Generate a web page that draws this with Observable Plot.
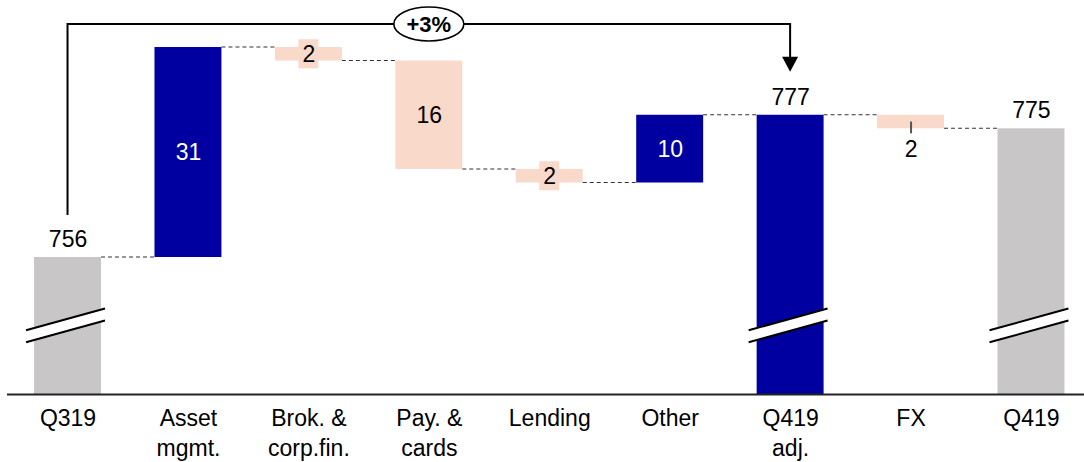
<!DOCTYPE html>
<html><head><meta charset="utf-8">
<script src="https://cdn.jsdelivr.net/npm/d3@7"></script>
<script src="https://cdn.jsdelivr.net/npm/@observablehq/plot@0.6"></script>
<style>body{margin:0;background:#fff}</style>
</head><body><div id="chart"></div>
<script>
// ---- data ----
const categories = ["Q319", "Asset mgmt.", "Brok. & corp.fin.", "Pay. & cards", "Lending", "Other", "Q419 adj.", "FX", "Q419"];
const tickLabels = ["Q319", "Asset\nmgmt.", "Brok. &\ncorp.fin.", "Pay. &\ncards", "Lending", "Other", "Q419\nadj.", "FX", "Q419"];
const values = [756, 31, -2, -16, -2, 10, 777, -2, 775];
const kinds = ["total", "delta", "delta", "delta", "delta", "delta", "subtotal", "delta", "total"];
const leaderCats = ["FX"];

// ---- styling / scale config ----
const NAVY = "#0000A0", PEACH = "#F9D9CA", GRAY = "#C8C6C7";
const yMin = 735.78, yMax = 793.94, breakValue = 745.9;
const FONT = "'Liberation Sans', Arial, Helvetica, sans-serif";
const FS = 23;

let run = 0;
const rows = categories.map((cat, i) => {
  const v = values[i], k = kinds[i];
  let lo, hi;
  if (k === "delta") { const s = run; run += v; lo = Math.min(s, run); hi = Math.max(s, run); }
  else { run = v; lo = yMin; hi = v; }
  const fill = k === "total" ? GRAY : k === "subtotal" ? NAVY : v > 0 ? NAVY : PEACH;
  return {cat, label: tickLabels[i], v, k, lo, hi, mid: (lo + hi) / 2, end: run, fill};
});
const labelOf = Object.fromEntries(rows.map(r => [r.cat, r.label]));
const totals = rows.filter(r => r.k !== "delta");
const bigDeltas = rows.filter(r => r.k === "delta" && Math.abs(r.v) >= 5);
const boxed = rows.filter(r => r.k === "delta" && Math.abs(r.v) < 5 && !leaderCats.includes(r.cat));
const leaders = rows.filter(r => leaderCats.includes(r.cat));
const connectors = rows.slice(0, -1).map((r, i) => ({from: r.cat, to: rows[i + 1].cat, level: r.end}));

const chart = Plot.plot({
  width: 1084, height: 462,
  marginTop: 0, marginBottom: 68, marginLeft: 7, marginRight: 0,
  style: {fontFamily: FONT, fontSize: FS + "px", background: "#fff", color: "#000"},
  x: {type: "band", domain: categories, range: [22, 1076.5], paddingInner: 0.444, paddingOuter: 0.1, align: 0.5, round: false, label: null},
  y: {domain: [yMin, yMax], axis: null},
  color: {type: "identity"},
  marks: [
    Plot.barY(rows, {x: "cat", y1: "lo", y2: "hi", fill: "fill"}),
    Plot.barY(boxed, {x: "cat", y1: "mid", y2: "mid", fill: PEACH, insetLeft: 23.5, insetRight: 23.5, insetTop: -14.5, insetBottom: -14.5}),
    Plot.ruleY([yMin], {stroke: "#222", strokeWidth: 2}),
    Plot.axisX({tickSize: 0, tickPadding: 10, fontSize: FS, lineHeight: 1.31, tickFormat: d => labelOf[d], fill: "#000", fontFamily: FONT, label: null}),
    Plot.text(totals, {x: "cat", y: "hi", text: r => String(r.v), dy: -18, fontSize: FS, fill: "#000"}),
    Plot.text(bigDeltas, {x: "cat", y: "mid", text: r => String(Math.abs(r.v)), fontSize: FS, fill: r => r.fill === NAVY ? "#ffffff" : "#000000"}),
    Plot.text(boxed, {x: "cat", y: "mid", text: r => String(Math.abs(r.v)), fontSize: FS, fill: "#000"}),
    Plot.ruleX(leaders, {x: "cat", y1: "mid", y2: "lo", insetBottom: -5, stroke: "#555", strokeWidth: 2}),
    Plot.text(leaders, {x: "cat", y: "lo", text: r => String(Math.abs(r.v)), dy: 21, fontSize: FS, fill: "#000"})
  ]
});
document.getElementById("chart").appendChild(chart);

// ---- overlay decorations using Plot's scales ----
const sx = chart.scale("x"), sy = chart.scale("y");
const bw = sx.bandwidth;
const cx = c => sx.apply(c) + bw / 2;
const py = v => sy.apply(v);
const svg = d3.select(chart);
const g = svg.append("g");

// dashed connectors
g.selectAll("line.conn").data(connectors).join("line")
  .attr("x1", d => cx(d.from) + bw / 2).attr("x2", d => cx(d.to) - bw / 2)
  .attr("y1", d => py(d.level)).attr("y2", d => py(d.level))
  .attr("stroke", "#333").attr("stroke-width", 1.1).attr("stroke-dasharray", "4,3");

// axis-break marks
const slope = -0.275, gap = 6;
totals.forEach(r => {
  const c = cx(r.cat), left = c - bw / 2 - 8, right = c + bw / 2 + 4, xm = (left + right) / 2;
  const yc = py(breakValue);
  const yy = x => yc + slope * (x - xm);
  g.append("path")
    .attr("d", `M${left},${yy(left) - gap}L${right},${yy(right) - gap}L${right},${yy(right) + gap}L${left},${yy(left) + gap}Z`)
    .attr("fill", "#fff");
  [-gap, gap].forEach(o => g.append("line")
    .attr("x1", left).attr("y1", yy(left) + o).attr("x2", right).attr("y2", yy(right) + o)
    .attr("stroke", "#000").attr("stroke-width", 2));
});

// growth arrow
const startCat = categories[0], endCat = categories[6];
const xs = cx(startCat), xe = cx(endCat);
const topY = 24;
const tipY = py(values[6]) - 43;
g.append("path")
  .attr("d", `M${xs},${py(values[0]) - 42}V${topY}H${xe}V${tipY - 14}`)
  .attr("fill", "none").attr("stroke", "#000").attr("stroke-width", 2);
g.append("path")
  .attr("d", `M${xe - 8},${tipY - 15}L${xe + 8},${tipY - 15}L${xe},${tipY}Z`)
  .attr("fill", "#000");
const growth = Math.round((values[6] / values[0] - 1) * 100);
const ex = (xs + xe) / 2;
g.append("ellipse").attr("cx", ex).attr("cy", topY).attr("rx", 35).attr("ry", 17)
  .attr("fill", "#fff").attr("stroke", "#000").attr("stroke-width", 1.6);
g.append("text").attr("x", ex).attr("y", topY).attr("dy", "0.36em")
  .attr("text-anchor", "middle").attr("font-weight", "bold").attr("font-size", 22)
  .attr("font-family", FONT).attr("fill", "#000")
  .text((growth >= 0 ? "+" : "") + growth + "%");
</script>
</body></html>
